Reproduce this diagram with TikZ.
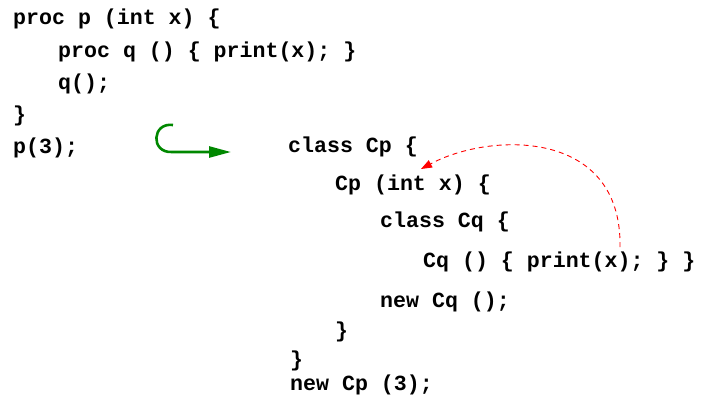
\documentclass[tikz,border=0pt]{standalone}
\usepackage{fontspec}
\setmonofont{Liberation Mono}
\usetikzlibrary{arrows.meta}
\definecolor{hookgreen}{RGB}{0,136,0}
\definecolor{linkred}{RGB}{255,0,0}
\tikzset{
  code/.style={anchor=base west, inner sep=0pt, font=\ttfamily\bfseries\fontsize{21.6}{26}\selectfont},
  hook/.style={draw=hookgreen, line width=2.6pt, -{Triangle[length=22pt,width=11pt]}},
  link/.style={draw=linkred, line width=0.9pt, dash pattern=on 5pt off 4pt, -{Triangle[length=11pt,width=8pt]}}
}
\begin{document}
\begin{tikzpicture}[x=1pt,y=-1pt]
\useasboundingbox (0,0) rectangle (703,407);
% left program
\node[code] (l1) at (13,24) {proc p (int x) \{};
\node[code] (l2) at (58,57) {proc q () \{ print(x); \}};
\node[code] (l3) at (58,89) {q();};
\node[code] (l4) at (13,121) {\}};
\node[code] (l5) at (13,153) {p(3);};
% right program
\node[code] (r1) at (288,152) {class Cp \{};
\node[code] (r2) at (335,190) {Cp (int x) \{};
\node[code] (r3) at (380,227) {class Cq \{};
\node[code] (r4) at (423,267) {Cq () \{ print(x); \} \}};
\node[code] (r5) at (380,307) {new Cq ();};
\node[code] (r6) at (335,337) {\}};
\node[code] (r7) at (290,366) {\}};
\node[code] (r8) at (290,390) {new Cp (3);};
% green hook arrow
\coordinate (hs) at (173,125);
\coordinate (hc) at (172,152);
\coordinate (he) at (231,152);
\draw[hook] (hs) .. controls (152,122) and (150,153) .. (hc) -- (he);
% red dashed arrow
\coordinate (ds) at (620,247);
\coordinate (de) at (421,169);
\draw[link] (ds) .. controls (622,128) and (490,132) .. (de);
\end{tikzpicture}
\end{document}
